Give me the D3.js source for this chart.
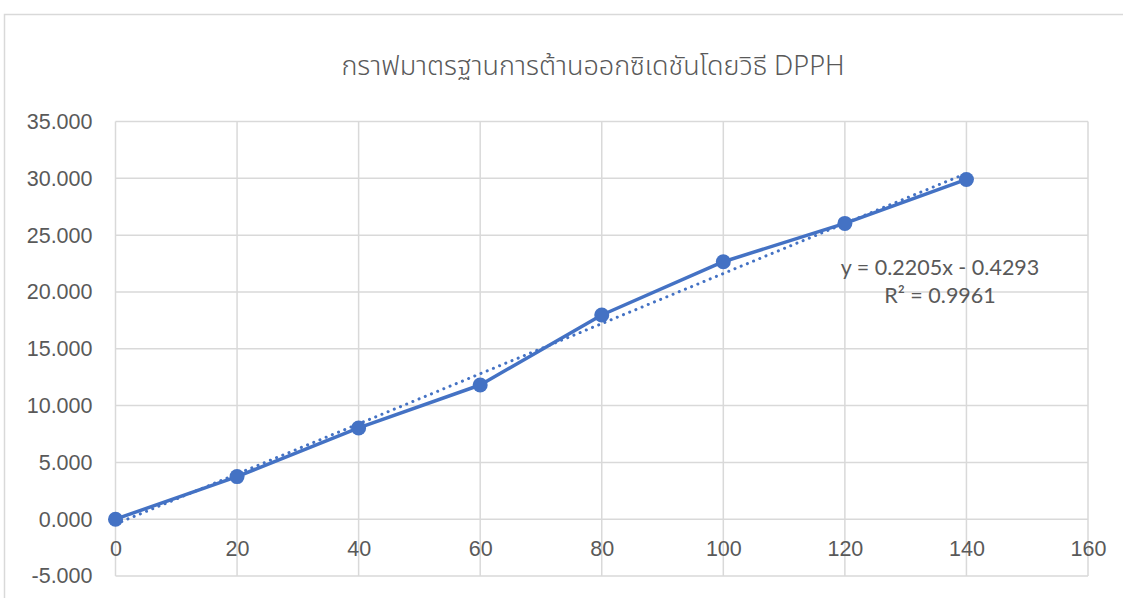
<!DOCTYPE html>
<html lang="th">
<head>
<meta charset="UTF-8">
<title>DPPH standard curve</title>
<script src="https://d3js.org/d3.v7.min.js"></script>
<style>
  body { margin: 0; background: #fff; }
  svg { display: block; font-family: Lato, "Open Sans", sans-serif; }
</style>
</head>
<body>
<svg id="chart" width="1123" height="598"></svg>
<script>
// data
const concentrations = [0, 20, 40, 60, 80, 100, 120, 140];
const inhibition = [0, 3.75, 8.03, 11.81, 17.97, 22.66, 26.03, 29.9];
const xTicks = [0, 20, 40, 60, 80, 100, 120, 140, 160];
const yTicks = [-5, 0, 5, 10, 15, 20, 25, 30, 35];
const trendCoef = [0.2205, -0.4293]; // slope, intercept
const trendLabels = ["y = 0.2205x - 0.4293", "R² = 0.9961"];
const title = "กราฟมาตรฐานการต้านออกซิเดชันโดยวิธี DPPH";

const blue = "#4472C4", grid = "#d9d9d9", txt = "#595959";

const svg = d3.select("#chart");

// outer chart border (runs off right and bottom)
svg.append("rect")
  .attr("x", 4.5).attr("y", 14.5)
  .attr("width", 1200).attr("height", 700)
  .attr("fill", "none").attr("stroke", grid).attr("stroke-width", 1.5);

const x = d3.scaleLinear().domain([0, 160]).range([115.5, 1088]);
const y = d3.scaleLinear().domain([-5, 35]).range([576, 121.5]);

// gridlines
svg.append("g").selectAll("line").data(yTicks).join("line")
  .attr("x1", x(0)).attr("x2", x(160))
  .attr("y1", d => y(d)).attr("y2", d => y(d))
  .attr("stroke", grid).attr("stroke-width", 1.5);
svg.append("g").selectAll("line").data(xTicks).join("line")
  .attr("x1", d => x(d)).attr("x2", d => x(d))
  .attr("y1", y(35)).attr("y2", y(-5))
  .attr("stroke", grid).attr("stroke-width", 1.5);

const fmt3 = d => d3.format(".3f")(d).replace("−", "-");

// y axis labels
const yAxis = svg.append("g")
  .attr("transform", `translate(${x(0)},0)`)
  .call(d3.axisLeft(y).tickValues(yTicks).tickFormat(fmt3).tickSize(0).tickPadding(23));
yAxis.select(".domain").remove();
yAxis.selectAll("text").attr("fill", txt).style("font-size", "21.5px");

// x axis labels sit under the zero line
const xAxis = svg.append("g")
  .attr("transform", `translate(0,${y(0)})`)
  .call(d3.axisBottom(x).tickValues(xTicks).tickFormat(d3.format("d")).tickSize(0).tickPadding(22));
xAxis.select(".domain").remove();
xAxis.selectAll("text").attr("fill", txt).style("font-size", "21.5px");

// title
svg.append("text")
  .attr("x", 593).attr("y", 75)
  .attr("text-anchor", "middle")
  .attr("fill", txt)
  .style("font-size", "27px")
  .style("font-weight", 300)
  .style("font-family", "'Noto Sans Thai', 'Noto Sans', Lato, sans-serif")
  .text(title);

// data series
const pts = concentrations.map((c, i) => [c, inhibition[i]]);
const line = d3.line().x(d => x(d[0])).y(d => y(d[1]));

svg.append("path").datum(pts)
  .attr("d", line)
  .attr("fill", "none").attr("stroke", blue).attr("stroke-width", 3.5)
  .attr("stroke-linejoin", "round");

// linear trendline (dotted)
const xs = d3.extent(concentrations);
const trend = xs.map(v => [v, trendCoef[0] * v + trendCoef[1]]);
svg.append("path").datum(trend)
  .attr("d", line)
  .attr("fill", "none").attr("stroke", blue).attr("stroke-width", 3)
  .attr("stroke-linecap", "round").attr("stroke-dasharray", "0.1,6.6");

svg.append("g").selectAll("circle").data(pts).join("circle")
  .attr("cx", d => x(d[0])).attr("cy", d => y(d[1]))
  .attr("r", 7.5).attr("fill", blue);

// trendline equation
svg.append("g").selectAll("text").data(trendLabels).join("text")
  .attr("x", 940).attr("y", (d, i) => 275 + i * 28)
  .attr("text-anchor", "middle")
  .attr("fill", txt).style("font-size", "21.5px")
  .text(d => d);
</script>
</body>
</html>
